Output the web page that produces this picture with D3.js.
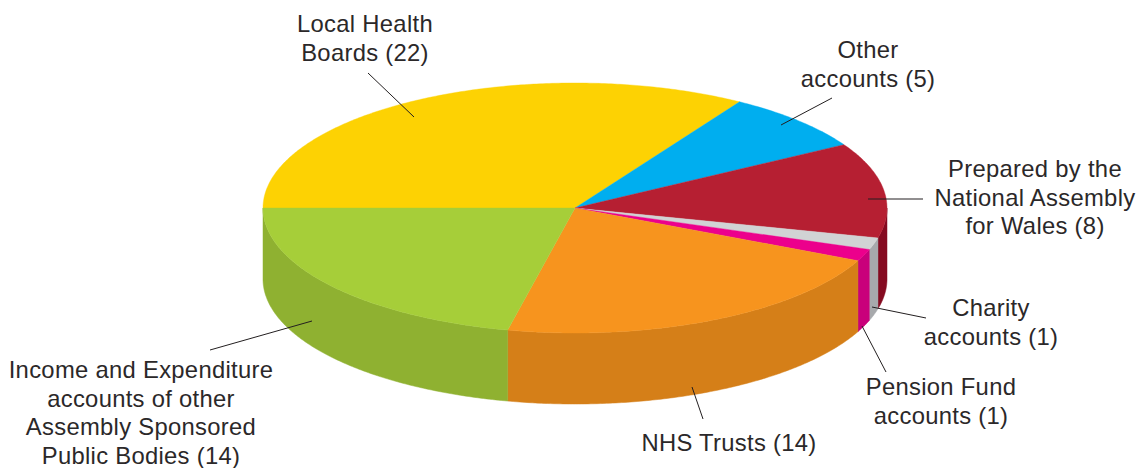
<!DOCTYPE html>
<html><head><meta charset="utf-8">
<script src="https://cdn.jsdelivr.net/npm/d3@7/dist/d3.min.js"></script>
<style>html,body{margin:0;background:#fff}svg{display:block}text{font-family:"Liberation Sans",Arial,sans-serif;font-size:23.8px;letter-spacing:0.3px;fill:#2b2829}</style>
</head><body><svg id="c" width="1137" height="468"></svg>
<script>
const categories = ["Local Health Boards","Other accounts","Prepared by the National Assembly for Wales","Charity accounts","Pension Fund accounts","NHS Trusts","Income and Expenditure accounts of other Assembly Sponsored Public Bodies"];
const counts = [22,5,8,1,1,14,14];
const topColours = ["#fdd203","#00aeef","#b61f32","#d1d3d4","#ec008c","#f7941e","#a6ce39"];
const sideColours = ["#caa802","#008bbf","#850a20","#a7a9ac","#c9007b","#d57f18","#8fb131"];
// label lines, leader start and end in chart pixels
const labelLines = [["Local Health","Boards (22)"],["Other","accounts (5)"],["Prepared by the","National Assembly","for Wales (8)"],["Charity","accounts (1)"],["Pension Fund","accounts (1)"],["NHS Trusts (14)"],["Income and Expenditure","accounts of other","Assembly Sponsored","Public Bodies (14)"]];
const labelAnchors = [[365,32],[868,58],[1035,177],[991,316],[941,395],[729,451],[141,378]];
const leaders = [[[368,73],[414,117]],[[832,98],[781,125]],[[923,199],[868,199]],[[926,318],[872,307]],[[886,372],[862,326]],[[703,419],[692,387]],[[210,350],[312,321]]];

const cx=575, cy=208, rx=312, ry=125, depth=71;
const svg=d3.select("#c");
const X=d3.scaleLinear().domain([-1,1]).range([cx-rx,cx+rx]);
const Y=d3.scaleLinear().domain([-1,1]).range([cy-ry,cy+ry]);

// Pie angles run clockwise from the left edge of the disc (0 = 12 o'clock in d3).
const arcs=d3.pie().sort(null).startAngle(-Math.PI/2).endAngle(1.5*Math.PI)(counts);
const px=a=>X(Math.sin(a)), py=a=>Y(-Math.cos(a));

function samples(a0,a1){const n=Math.max(2,Math.ceil((a1-a0)/0.01));return d3.range(n+1).map(i=>a0+(a1-a0)*i/n);}
const line=d3.line();

// Side wall: only the front half of the rim (angles between 90° and 270°) is visible.
const g=svg.append("g");
arcs.forEach((d,i)=>{
  const a0=Math.max(d.startAngle,Math.PI/2), a1=Math.min(d.endAngle,1.5*Math.PI);
  if(a1<=a0) return;
  const s=samples(a0,a1);
  const upper=s.map(a=>[px(a),py(a)]);
  const lower=s.slice().reverse().map(a=>[px(a),py(a)+depth]);
  g.append("path").attr("d",line(upper.concat(lower))+"Z").attr("fill",sideColours[i]).attr("stroke",sideColours[i]).attr("stroke-width",0.5);
});
// Top face wedges
arcs.forEach((d,i)=>{
  const s=samples(d.startAngle,d.endAngle).map(a=>[px(a),py(a)]);
  g.append("path").attr("d",line([[cx,cy]].concat(s))+"Z").attr("fill",topColours[i]).attr("stroke",topColours[i]).attr("stroke-width",0.4);
});
// Leaders
svg.append("g").selectAll("line").data(leaders).join("line")
  .attr("x1",d=>d[0][0]).attr("y1",d=>d[0][1]).attr("x2",d=>d[1][0]).attr("y2",d=>d[1][1])
  .attr("stroke","#231f20").attr("stroke-width",1);
// Labels
labelLines.forEach((ls,i)=>{
  const t=svg.append("text").attr("text-anchor","middle");
  ls.forEach((l,j)=>t.append("tspan").attr("x",labelAnchors[i][0]).attr("y",labelAnchors[i][1]+j*28.7).text(l));
});
</script></body></html>
